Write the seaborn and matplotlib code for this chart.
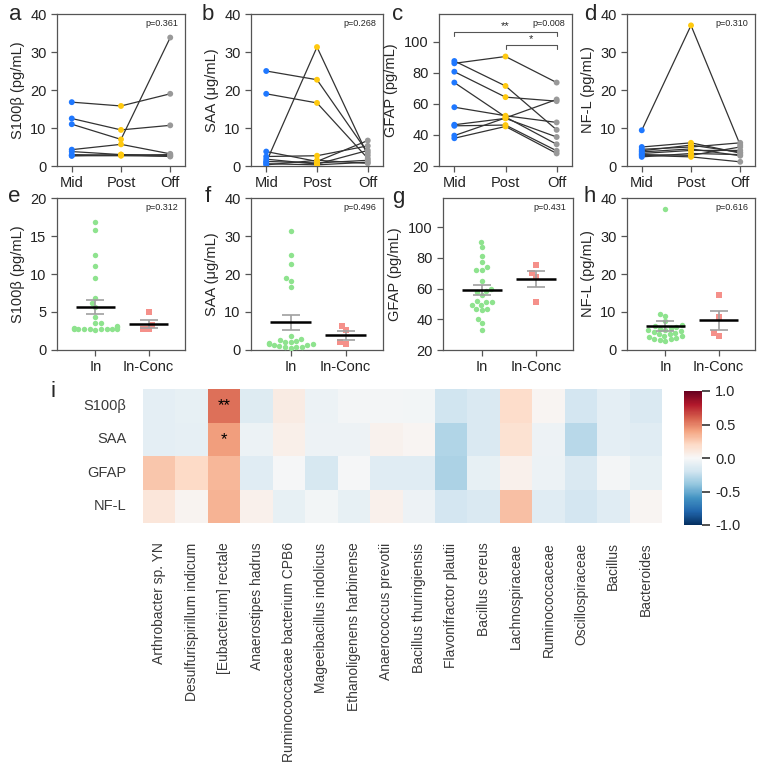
import numpy as np
import pandas as pd
import matplotlib
matplotlib.use('Agg')
import matplotlib.pyplot as plt
import seaborn as sns
import warnings

warnings.filterwarnings('ignore', category=UserWarning)

# ─────────────────────────────────────────
# Data
# ─────────────────────────────────────────
times = ['Mid', 'Post', 'Off']
groups = ['In', 'In-Conc']

# paired panels a-d : one entry per subject
s100b_mid = [16.8, 12.5, 11.0, 4.3, 3.8, 3.0, 2.7, 2.7]
s100b_post = [15.8, 9.5, 7.0, 5.7, 3.0, 2.8, 2.7, 3.0]
s100b_off = [19.0, 10.7, 33.8, 3.2, 2.8, 3.0, 2.6, 2.5]

saa_mid = [25.0, 19.0, 1.0, 3.8, 2.5, 1.8, 1.2, 0.6, 0.3]
saa_post = [22.7, 16.6, 31.3, 1.2, 2.7, 0.5, 0.8, 0.3, 1.5]
saa_off = [3.5, 2.0, 2.8, 6.7, 5.3, 4.1, 1.5, 1.0, 0.7]

gfap_mid = [86.2, 87.7, 80.8, 73.8, 57.9, 46.6, 45.9, 39.6, 37.9]
gfap_post = [90.6, 71.6, 64.4, 51.6, 52.4, 50.7, 46.4, 51.0, 45.5]
gfap_off = [73.8, 43.3, 61.8, 34.0, 48.1, 38.7, 29.8, 62.9, 28.1]

nfl_mid = [9.4, 5.0, 4.4, 3.7, 3.3, 2.8, 2.4, 4.0, 3.0]
nfl_post = [37.0, 6.1, 5.0, 4.5, 4.1, 2.4, 3.3, 5.5, 2.8]
nfl_off = [5.5, 3.4, 6.1, 2.7, 4.1, 1.1, 3.0, 3.6, 5.0]

# group panels e-h
s100b_in = [16.8, 15.8, 12.5, 11.1, 9.5, 6.9, 6.2, 5.6, 4.3, 3.6, 3.5, 3.1,
            3.0, 2.9, 2.8, 2.8, 2.7, 2.7, 2.7, 2.7, 2.7, 2.7, 2.6]
s100b_conc = [5.0, 3.3, 2.7, 2.7]

saa_in = [31.3, 24.9, 22.7, 19.0, 18.2, 16.5, 3.6, 3.0, 2.7, 2.3, 2.2, 2.0,
          1.8, 1.6, 1.5, 1.4, 1.2, 1.0, 0.9, 0.8, 0.7, 0.5]
saa_conc = [6.3, 5.2, 2.2, 1.6]

gfap_in = [90.5, 87, 81.5, 77.5, 74, 72, 72, 65, 60, 58.5, 58, 56, 52, 51,
           51, 49.5, 49, 47, 46.5, 46, 40, 37.5, 33]
gfap_conc = [75.3, 70.3, 67.7, 51.5]

nfl_in = [37, 9.5, 9.0, 7.5, 6.5, 6.3, 6.0, 5.8, 5.5, 5.3, 5.2, 5.0, 4.8,
          4.6, 4.3, 4.1, 3.8, 3.6, 3.4, 3.2, 3.0, 2.8, 2.6, 2.4]
nfl_conc = [14.6, 8.6, 4.6, 3.7]

# heatmap i
markers = ['S100β', 'SAA', 'GFAP', 'NF-L']
taxa = ['Arthrobacter sp. YN', 'Desulfurispirillum indicum', '[Eubacterium] rectale',
        'Anaerostipes hadrus', 'Ruminococcaceae bacterium CPB6', 'Mageeibacillus indolicus',
        'Ethanoligenens harbinense', 'Anaerococcus prevotii', 'Bacillus thuringiensis',
        'Flavonifractor plautii', 'Bacillus cereus', 'Lachnospiraceae', 'Ruminococcaceae',
        'Oscillospiraceae', 'Bacillus', 'Bacteroides']
r_s100b = [-0.10, -0.08, 0.55, -0.13, 0.08, -0.06, -0.02, -0.02,
           -0.03, -0.20, -0.15, 0.18, 0.02, -0.18, -0.10, -0.15]
r_saa = [-0.10, -0.09, 0.42, -0.06, 0.06, -0.05, -0.05, 0.04,
         0.02, -0.30, -0.15, 0.15, -0.05, -0.28, -0.10, -0.12]
r_gfap = [0.28, 0.20, 0.33, -0.12, -0.01, -0.17, -0.01, -0.12,
          -0.12, -0.32, -0.08, 0.05, -0.06, -0.15, -0.02, -0.08]
r_nfl = [0.12, 0.03, 0.35, 0.05, -0.08, -0.03, -0.08, 0.05,
         -0.05, -0.18, -0.15, 0.30, -0.12, -0.18, -0.12, 0.02]
sig_cells = {('S100β', '[Eubacterium] rectale'): '**',
             ('SAA', '[Eubacterium] rectale'): '*'}

# ─────────────────────────────────────────
# Style
# ─────────────────────────────────────────
sns.set_style('ticks')
plt.rcParams['font.family'] = ['Liberation Sans', 'DejaVu Sans']
plt.rcParams['font.size'] = 10

time_pal = {'Mid': '#1f78ff', 'Post': '#ffc90e', 'Off': '#999999'}
grp_pal = {'In': '#8ee38e', 'In-Conc': '#f5908a'}
spine_col = '#555555'

W, H = 764, 765
fig = plt.figure(figsize=(W / 100, H / 100), dpi=100)


def box(x0, y0, x1, y1):
    return [x0 / W, 1 - y1 / H, (x1 - x0) / W, (y1 - y0) / H]


def style_axis(ax):
    for s in ax.spines.values():
        s.set_color(spine_col)
        s.set_linewidth(0.9)
    ax.tick_params(length=4, width=0.9, color=spine_col, labelsize=10.5,
                   labelcolor='#222222')


def paired_panel(ax, mid, post, off, ylim, yticks, ylabel, ptext):
    df = pd.DataFrame({'Mid': mid, 'Post': post, 'Off': off})
    df['subject'] = range(len(df))
    long = df.melt(id_vars='subject', var_name='time', value_name='value')
    long['x'] = long['time'].map({t: i for i, t in enumerate(times)})
    sns.lineplot(data=long, x='x', y='value', units='subject', estimator=None,
                 color='#333333', lw=0.9, ax=ax, legend=False)
    sns.scatterplot(data=long, x='x', y='value', hue='time', palette=time_pal,
                    s=18, linewidth=0, ax=ax, legend=False, zorder=3)
    ax.set_xlim(-0.3, 2.3)
    ax.set_xticks(range(3))
    ax.set_xticklabels(times)
    ax.set_ylim(*ylim)
    ax.set_yticks(yticks)
    ax.set_xlabel('')
    ax.set_ylabel(ylabel, fontsize=10.5)
    ax.text(0.95, 0.965, ptext, transform=ax.transAxes, ha='right', va='top',
            fontsize=6.5)
    style_axis(ax)


def group_panel(ax, in_vals, conc_vals, ylim, yticks, ylabel, ptext):
    df = pd.DataFrame({'group': ['In'] * len(in_vals) + ['In-Conc'] * len(conc_vals),
                       'value': in_vals + conc_vals})
    sns.swarmplot(data=df[df.group == 'In'], x='group', y='value', order=groups,
                  color=grp_pal['In'], size=3.9, marker='o', ax=ax)
    sns.swarmplot(data=df[df.group == 'In-Conc'], x='group', y='value', order=groups,
                  color=grp_pal['In-Conc'], size=3.9, marker='s', ax=ax)
    stats = df.groupby('group')['value'].agg(['mean', 'sem'])
    for i, g in enumerate(groups):
        m, se = stats.loc[g, 'mean'], stats.loc[g, 'sem']
        ax.errorbar(i, m, yerr=se, color='#a0a0a0', capsize=6.3, lw=1.2,
                    capthick=1.2, zorder=4)
        ax.hlines(m, i - 0.37, i + 0.37, color='black', lw=1.8, zorder=5)
    ax.set_xlim(-0.72, 1.68)
    ax.set_ylim(*ylim)
    ax.set_yticks(yticks)
    ax.set_xlabel('')
    ax.set_ylabel(ylabel, fontsize=10.5)
    ax.text(0.95, 0.965, ptext, transform=ax.transAxes, ha='right', va='top',
            fontsize=6.5)
    style_axis(ax)


# ─────────────────────────────────────────
# Top row: paired time courses
# ─────────────────────────────────────────
ax_a = fig.add_axes(box(57, 14, 185, 166))
paired_panel(ax_a, s100b_mid, s100b_post, s100b_off, (0, 40), [0, 10, 20, 30, 40],
             'S100β (pg/mL)', 'p=0.361')
ax_b = fig.add_axes(box(251, 14, 383, 166))
paired_panel(ax_b, saa_mid, saa_post, saa_off, (0, 40), [0, 10, 20, 30, 40],
             'SAA (μg/mL)', 'p=0.268')
ax_c = fig.add_axes(box(439, 14, 572, 166))
paired_panel(ax_c, gfap_mid, gfap_post, gfap_off, (20, 118), [20, 40, 60, 80, 100],
             'GFAP (pg/mL)', 'p=0.008')
ax_d = fig.add_axes(box(627, 14, 755, 166))
paired_panel(ax_d, nfl_mid, nfl_post, nfl_off, (0, 40), [0, 10, 20, 30, 40],
             'NF-L (pg/mL)', 'p=0.310')

# significance brackets on c
for (x0, x1, yb, label) in [(0, 2, 106.5, '**'), (1, 2, 98.2, '*')]:
    ax_c.plot([x0, x0, x1, x1], [yb - 2.5, yb, yb, yb - 2.5], color='#555555', lw=0.8)
    ax_c.text((x0 + x1) / 2, yb + 0.3, label, ha='center', va='bottom', fontsize=8)

# ─────────────────────────────────────────
# Middle row: In vs In-Conc
# ─────────────────────────────────────────
ax_e = fig.add_axes(box(57, 198, 185, 350))
group_panel(ax_e, s100b_in, s100b_conc, (0, 20), [0, 5, 10, 15, 20],
            'S100β (pg/mL)', 'p=0.312')
ax_f = fig.add_axes(box(251, 198, 383, 350))
group_panel(ax_f, saa_in, saa_conc, (0, 40), [0, 10, 20, 30, 40],
            'SAA (μg/mL)', 'p=0.496')
ax_g = fig.add_axes(box(443, 198, 573, 350))
group_panel(ax_g, gfap_in, gfap_conc, (20, 119), [20, 40, 60, 80, 100],
            'GFAP (pg/mL)', 'p=0.431')
ax_h = fig.add_axes(box(627, 198, 755, 350))
group_panel(ax_h, nfl_in, nfl_conc, (0, 40), [0, 10, 20, 30, 40],
            'NF-L (pg/mL)', 'p=0.616')

# ─────────────────────────────────────────
# Heatmap i
# ─────────────────────────────────────────
corr = pd.DataFrame([r_s100b, r_saa, r_gfap, r_nfl], index=markers, columns=taxa)
annot = pd.DataFrame('', index=markers, columns=taxa)
for (row, col), txt in sig_cells.items():
    annot.loc[row, col] = txt

ax_i = fig.add_axes(box(143, 389, 662, 523))
cax = fig.add_axes(box(684, 391, 702, 525))
sns.heatmap(corr, cmap='RdBu_r', vmin=-1, vmax=1, annot=annot, fmt='',
            annot_kws={'fontsize': 12, 'color': 'black'}, ax=ax_i, cbar_ax=cax,
            cbar_kws={'ticks': [1.0, 0.5, 0.0, -0.5, -1.0]})
ax_i.tick_params(axis='both', length=0, labelsize=10, labelcolor='#3a3a3a')
ax_i.tick_params(axis='y', pad=12)
ax_i.tick_params(axis='x', pad=14)
ax_i.set_yticklabels(markers, rotation=0, fontsize=10.5)
ax_i.set_xticklabels(taxa, rotation=90)
cbar = ax_i.collections[0].colorbar
cbar.outline.set_visible(False)
cbar.set_ticklabels(['1.0', '0.5', '0.0', '-0.5', '-1.0'])
cax.tick_params(length=6, width=1.2, color='#333333', labelsize=10.5)

# panel letters
letters = {'a': (15, 14), 'b': (208, 14), 'c': (398, 14), 'd': (590, 14),
           'e': (14, 197), 'f': (208, 197), 'g': (398, 197), 'h': (590, 197),
           'i': (53, 392)}
for k, (x, y) in letters.items():
    fig.text(x / W, 1 - y / H, k, fontsize=16, ha='center', va='center')

plt.savefig('out.png', dpi=100)
